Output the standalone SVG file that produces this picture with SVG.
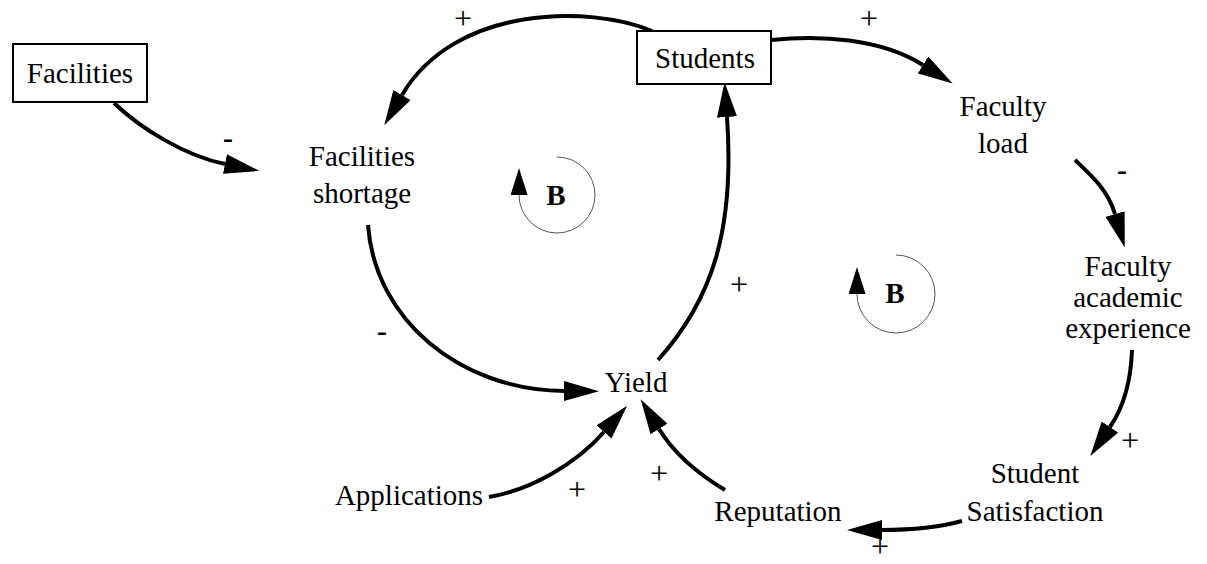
<svg xmlns="http://www.w3.org/2000/svg" width="1207" height="564" viewBox="0 0 1207 564">
<style>
text{font-family:'Liberation Serif',Tinos,'Times New Roman',Times,'DejaVu Serif','Noto Serif',serif;fill:#000;text-anchor:middle}
.t{font-size:29px}
.b{font-size:29px;font-weight:bold}
.p{font-size:32px}
.m{font-size:30px;font-weight:bold}
.box{fill:#fff;stroke:#000;stroke-width:2}
.c{fill:none;stroke:#000;stroke-width:4;marker-end:url(#ah)}
.loop{fill:none;stroke:#555;stroke-width:1;marker-end:url(#lh)}
</style>
<defs>
<marker id="ah" viewBox="0 0 35 20" refX="0" refY="10" markerWidth="35" markerHeight="20" markerUnits="userSpaceOnUse" orient="auto">
<path d="M0,0 L35,10 L0,20 z" fill="#000"/>
</marker>
<marker id="lh" viewBox="0 0 27 17" refX="0" refY="8.5" markerWidth="27" markerHeight="17" markerUnits="userSpaceOnUse" orient="auto">
<path d="M0,0 L27,8.5 L0,17 z" fill="#000"/>
</marker>
</defs>
<rect width="1207" height="564" fill="#fff"/>
<g id="connectors">
<path class="c" d="M114,103 C140,128 185,156 225,164"/>
<path class="c" d="M652,31 C590,5 455,5 402,95"/>
<path class="c" d="M771,40 C820,35 880,38 923,65"/>
<path class="c" d="M1075,160 C1092,176 1108,190 1115,214"/>
<path class="c" d="M1132,350 C1131,380 1125,405 1110,427"/>
<path class="c" d="M962,521 C940,527 910,530 882,530"/>
<path class="c" d="M725,490 C700,475 675,455 659,429"/>
<path class="c" d="M489,497 C530,490 575,465 604,432"/>
<path class="c" d="M368,225 C375,320 460,390 564,391"/>
<path class="c" d="M658,360 C712,300 735,230 727,117"/>
<text class="m" x="228" y="148">-</text>
<text class="p" x="463" y="29">+</text>
<text class="p" x="869" y="29">+</text>
<text class="m" x="1122" y="180">-</text>
<text class="p" x="1130" y="451">+</text>
<text class="p" x="880" y="557">+</text>
<text class="p" x="659" y="484">+</text>
<text class="p" x="577" y="500">+</text>
<text class="m" x="382" y="341">-</text>
<text class="p" x="739" y="295">+</text>
</g>
<g id="loop1">
<path class="loop" d="M557,157 A38,38 0 1 1 519,195"/>
<text class="b" x="556" y="205">B</text>
</g>
<g id="loop2">
<path class="loop" d="M896,255 A39,39 0 1 1 857,294"/>
<text class="b" x="895" y="303">B</text>
</g>
<g id="facilities">
<rect class="box" x="13" y="44" width="134" height="58"/>
<text class="t" x="80" y="83">Facilities</text>
</g>
<g id="students">
<rect class="box" x="637" y="31" width="134" height="53"/>
<text class="t" x="705" y="68">Students</text>
</g>
<g id="facilities-shortage">
<text class="t" x="362" y="166">Facilities</text>
<text class="t" x="362" y="203">shortage</text>
</g>
<g id="faculty-load">
<text class="t" x="1003" y="116">Faculty</text>
<text class="t" x="1003" y="153">load</text>
</g>
<g id="faculty-academic-experience">
<text class="t" x="1128" y="276">Faculty</text>
<text class="t" x="1128" y="307">academic</text>
<text class="t" x="1128" y="338">experience</text>
</g>
<g id="student-satisfaction">
<text class="t" x="1035" y="483">Student</text>
<text class="t" x="1035" y="521">Satisfaction</text>
</g>
<g id="reputation">
<text class="t" x="778" y="521">Reputation</text>
</g>
<g id="applications">
<text class="t" x="409" y="505">Applications</text>
</g>
<g id="yield">
<text class="t" x="636" y="392">Yield</text>
</g>
</svg>
